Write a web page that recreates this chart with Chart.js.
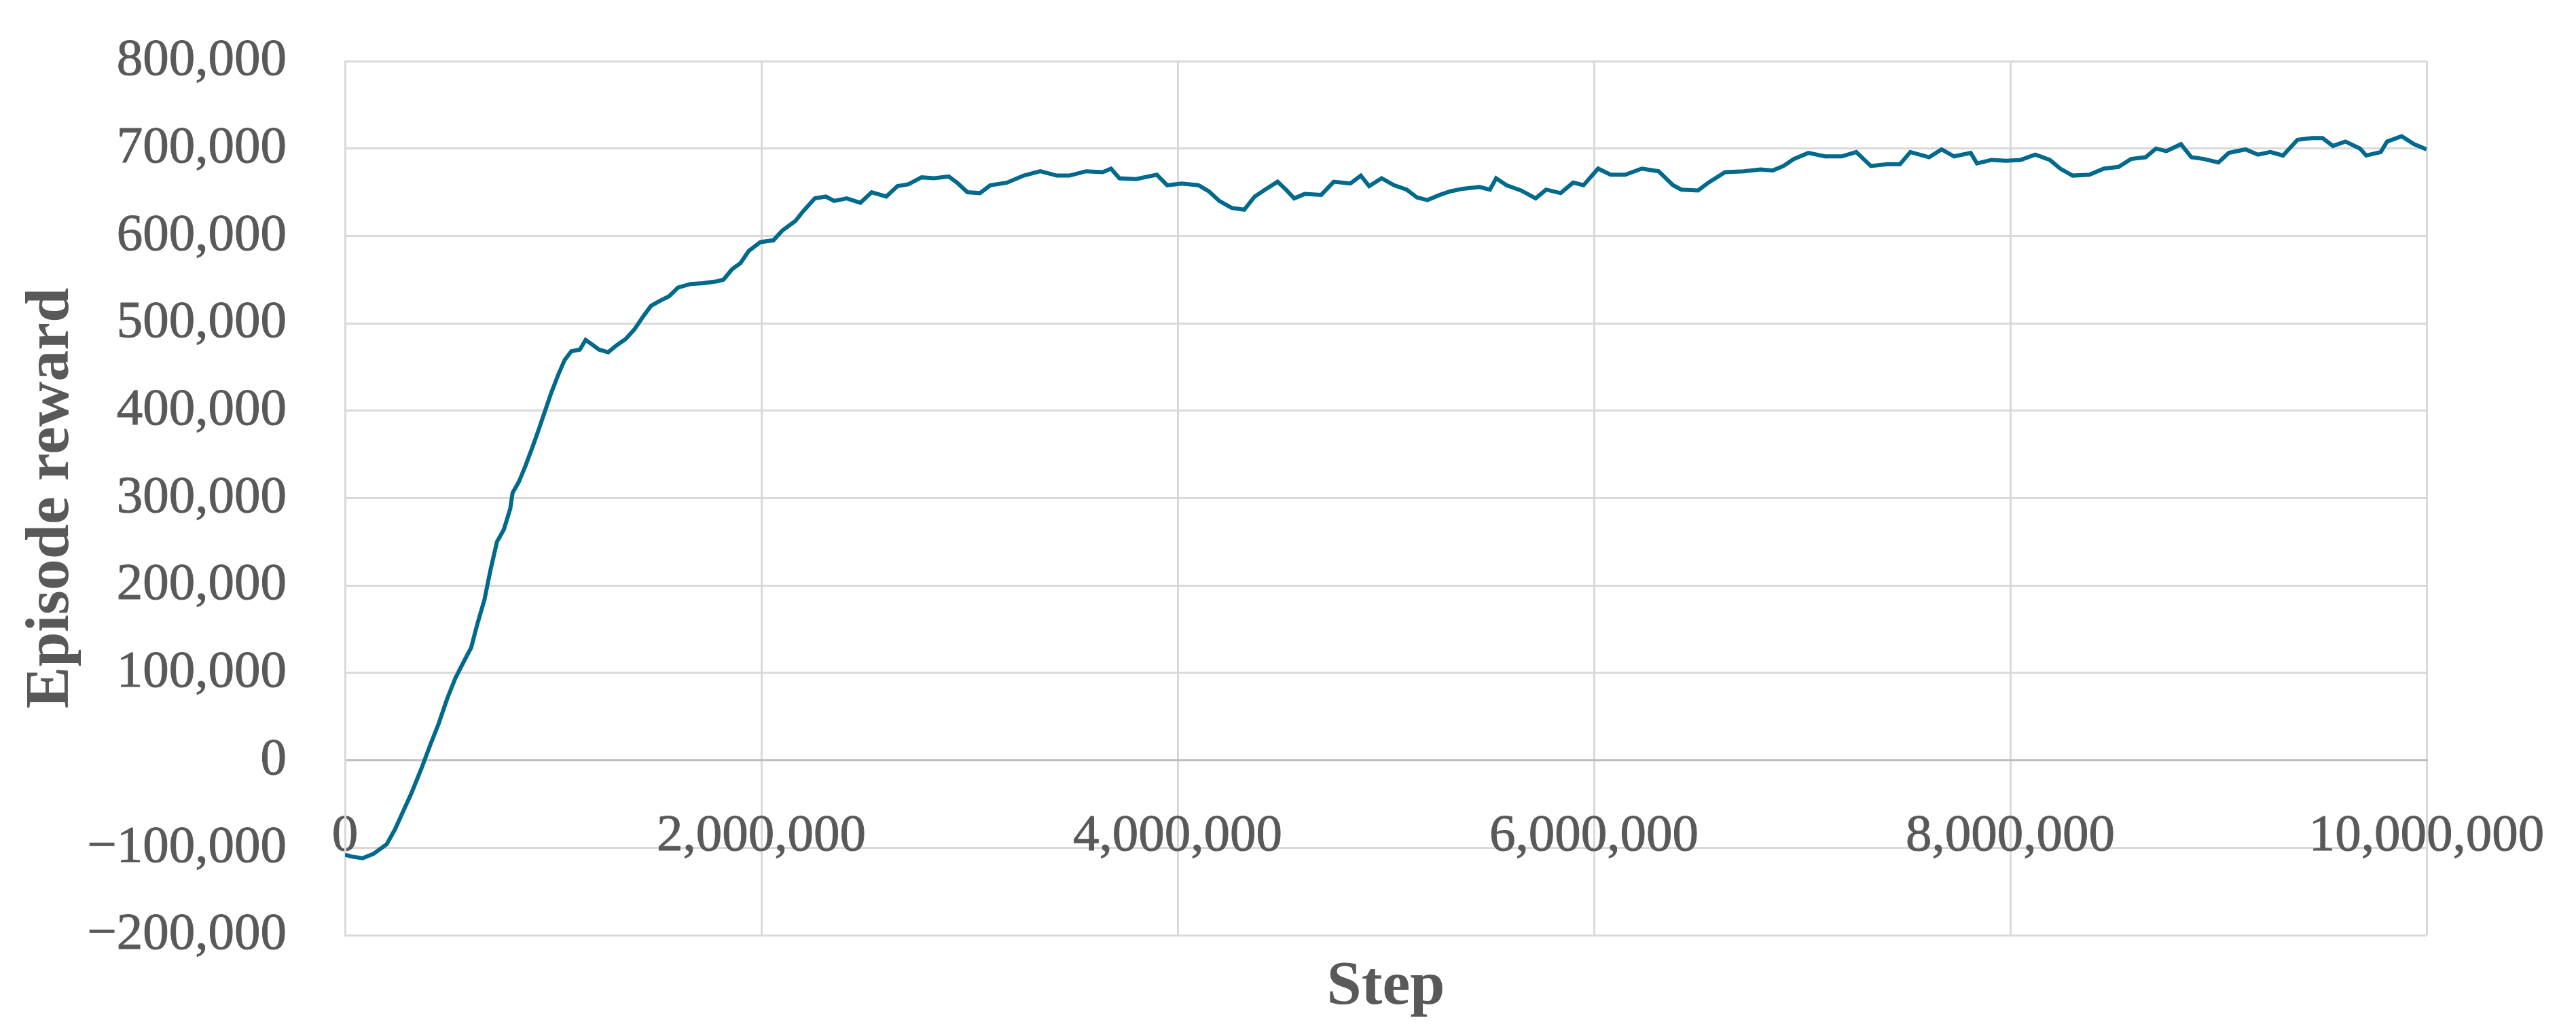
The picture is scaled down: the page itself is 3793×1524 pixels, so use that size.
<!DOCTYPE html>
<html>
<head>
<meta charset="utf-8">
<script src="https://cdn.jsdelivr.net/npm/chart.js@4"></script>
<style>
  body { margin: 0; background: #fff; }
  #wrap { width: 3793px; height: 1524px; }
</style>
</head>
<body>
<div id="wrap"><canvas id="grafico-reward" width="3793" height="1524"></canvas></div>
<script>
// passos de treino (x) e recompensa media do episodio (y)
const steps = [
    0, 30000, 84000, 136000, 200000, 240000, 280000, 320000, 366000, 410000,
    450000, 490000, 530000, 575000, 606000, 637000, 670000, 700000, 730000, 763000,
    794000, 805000, 836000, 867000, 900000, 930000, 960000, 990000, 1024000, 1055000,
    1087000, 1128000, 1156000, 1180000, 1220000, 1264000, 1306000, 1348000, 1390000, 1430000,
    1470000, 1515000, 1557000, 1600000, 1660000, 1720000, 1787000, 1818000, 1860000, 1900000,
    1940000, 1996000, 2058000, 2100000, 2163000, 2200000, 2257000, 2310000, 2350000, 2410000,
    2476000, 2530000, 2600000, 2654000, 2706000, 2770000, 2830000, 2900000, 2940000, 2990000,
    3050000, 3100000, 3180000, 3260000, 3340000, 3420000, 3480000, 3560000, 3640000, 3680000,
    3720000, 3800000, 3900000, 3950000, 4020000, 4100000, 4150000, 4200000, 4260000, 4320000,
    4370000, 4420000, 4480000, 4520000, 4560000, 4610000, 4690000, 4750000, 4830000, 4880000,
    4920000, 4980000, 5040000, 5100000, 5150000, 5200000, 5260000, 5310000, 5370000, 5450000,
    5500000, 5530000, 5580000, 5650000, 5720000, 5770000, 5840000, 5900000, 5950000, 6020000,
    6080000, 6150000, 6230000, 6310000, 6380000, 6420000, 6500000, 6550000, 6630000, 6720000,
    6800000, 6860000, 6910000, 6960000, 7030000, 7110000, 7190000, 7260000, 7330000, 7410000,
    7470000, 7520000, 7610000, 7670000, 7730000, 7810000, 7840000, 7910000, 7980000, 8050000,
    8120000, 8190000, 8240000, 8300000, 8380000, 8450000, 8520000, 8580000, 8650000, 8700000,
    8750000, 8820000, 8870000, 8930000, 9000000, 9050000, 9130000, 9190000, 9250000, 9310000,
    9380000, 9450000, 9500000, 9550000, 9610000, 9680000, 9710000, 9780000, 9810000, 9880000,
    9940000, 10000000
];

const reward = [
    -108000, -110000, -112000, -107000, -96000, -79000, -58000, -37000, -10000, 18000,
    42000, 70000, 94000, 115000, 129000, 157000, 184000, 219000, 250000, 264000,
    288000, 306000, 319000, 337000, 358000, 378000, 399000, 420000, 441000, 458000,
    468000, 470000, 481000, 477000, 470000, 467000, 475000, 482000, 493000, 507000,
    520000, 526000, 531000, 541000, 545000, 546000, 548000, 550000, 562000, 569000,
    583000, 593000, 595000, 606000, 617000, 628000, 643000, 645000, 640000, 643000,
    638000, 650000, 645000, 657000, 659000, 667000, 666000, 668000, 661000, 650000,
    649000, 658000, 661000, 669000, 674000, 669000, 669000, 674000, 673000, 677000,
    666000, 665000, 670000, 658000, 660000, 658000, 651000, 640000, 632000, 630000,
    645000, 653000, 662000, 653000, 643000, 648000, 647000, 662000, 660000, 669000,
    657000, 666000, 658000, 653000, 644000, 641000, 647000, 651000, 654000, 656000,
    653000, 666000, 658000, 652000, 643000, 653000, 649000, 661000, 658000, 677000,
    670000, 670000, 677000, 674000, 658000, 653000, 652000, 661000, 673000, 674000,
    676000, 675000, 680000, 688000, 695000, 691000, 691000, 696000, 680000, 682000,
    682000, 696000, 690000, 699000, 691000, 695000, 683000, 687000, 686000, 687000,
    693000, 687000, 677000, 669000, 670000, 677000, 679000, 688000, 690000, 700000,
    697000, 705000, 690000, 688000, 684000, 695000, 699000, 693000, 696000, 692000,
    710000, 712000, 712000, 703000, 708000, 700000, 692000, 696000, 708000, 714000,
    705000, 699000
];

const TITULO_X = 'Step';
const TITULO_Y = 'Episode reward';

const COR_TEXTO = '#595959';
const COR_GRADE = '#d9d9d9';
const COR_EIXO = '#bfbfbf';
const FONTE = '"Liberation Serif", "Times New Roman", serif';

function formatar(v) {
    return v.toLocaleString('en-US').replace('-', '\u2212');
}

// titulos dos eixos desenhados em volta da area do grafico
const titulosEixos = {
    id: 'titulosEixos',
    afterDraw(chart) {
        const ctx = chart.ctx;
        const area = chart.chartArea;
        ctx.save();
        ctx.fillStyle = COR_TEXTO;
        ctx.font = 'bold 92px ' + FONTE;
        ctx.textAlign = 'center';
        ctx.textBaseline = 'alphabetic';
        ctx.fillText(TITULO_X, (area.left + area.right) / 2, 1478);
        ctx.translate(76, (area.top + area.bottom) / 2);
        ctx.rotate(-Math.PI / 2);
        ctx.textBaseline = 'middle';
        ctx.fillText(TITULO_Y, 0, 0);
        ctx.restore();
    }
};

let pontos = [];
for (let i = 0; i < steps.length; i++) {
    pontos.push({ x: steps[i], y: reward[i] });
}

// o afastamento dos rotulos vem do tickLength (marcas invisiveis), assim o
// padding dos ticks nao aumenta a margem do grafico
new Chart(document.getElementById('grafico-reward'), {
    type: 'line',
    data: {
        datasets: [{
            data: pontos,
            borderColor: '#00698c',
            borderWidth: 6,
            pointRadius: 0,
            tension: 0,
            fill: false
        }]
    },
    options: {
        responsive: false,
        animation: false,
        layout: { padding: { left: 0, top: 90, right: 220, bottom: 147 } },
        plugins: { legend: { display: false }, tooltip: { enabled: false } },
        scales: {
            x: {
                type: 'linear',
                position: { y: 0 },
                min: 0,
                max: 10000000,
                grid: { color: COR_GRADE, lineWidth: 3, drawTicks: true, tickLength: 66, tickColor: 'rgba(0,0,0,0)' },
                border: { color: COR_EIXO, width: 3 },
                ticks: {
                    stepSize: 2000000,
                    autoSkip: false,
                    maxRotation: 0,
                    padding: 0,
                    color: COR_TEXTO,
                    textStrokeColor: COR_TEXTO,
                    textStrokeWidth: 1,
                    font: { family: FONTE, size: 77, lineHeight: 1.2 },
                    callback: v => formatar(v)
                }
            },
            y: {
                min: -200000,
                max: 800000,
                afterFit: s => { s.width = 508; },
                grid: {
                    color: ctx => ctx.tick && ctx.tick.value === 0 ? COR_EIXO : COR_GRADE,
                    lineWidth: 3,
                    drawTicks: true,
                    tickLength: 86,
                    tickColor: 'rgba(0,0,0,0)'
                },
                border: { color: COR_GRADE, width: 3 },
                ticks: {
                    stepSize: 100000,
                    padding: 0,
                    color: COR_TEXTO,
                    textStrokeColor: COR_TEXTO,
                    textStrokeWidth: 1,
                    font: { family: FONTE, size: 77, lineHeight: 1.2 },
                    callback: v => formatar(v)
                }
            }
        }
    },
    plugins: [titulosEixos]
});
</script>
</body>
</html>
